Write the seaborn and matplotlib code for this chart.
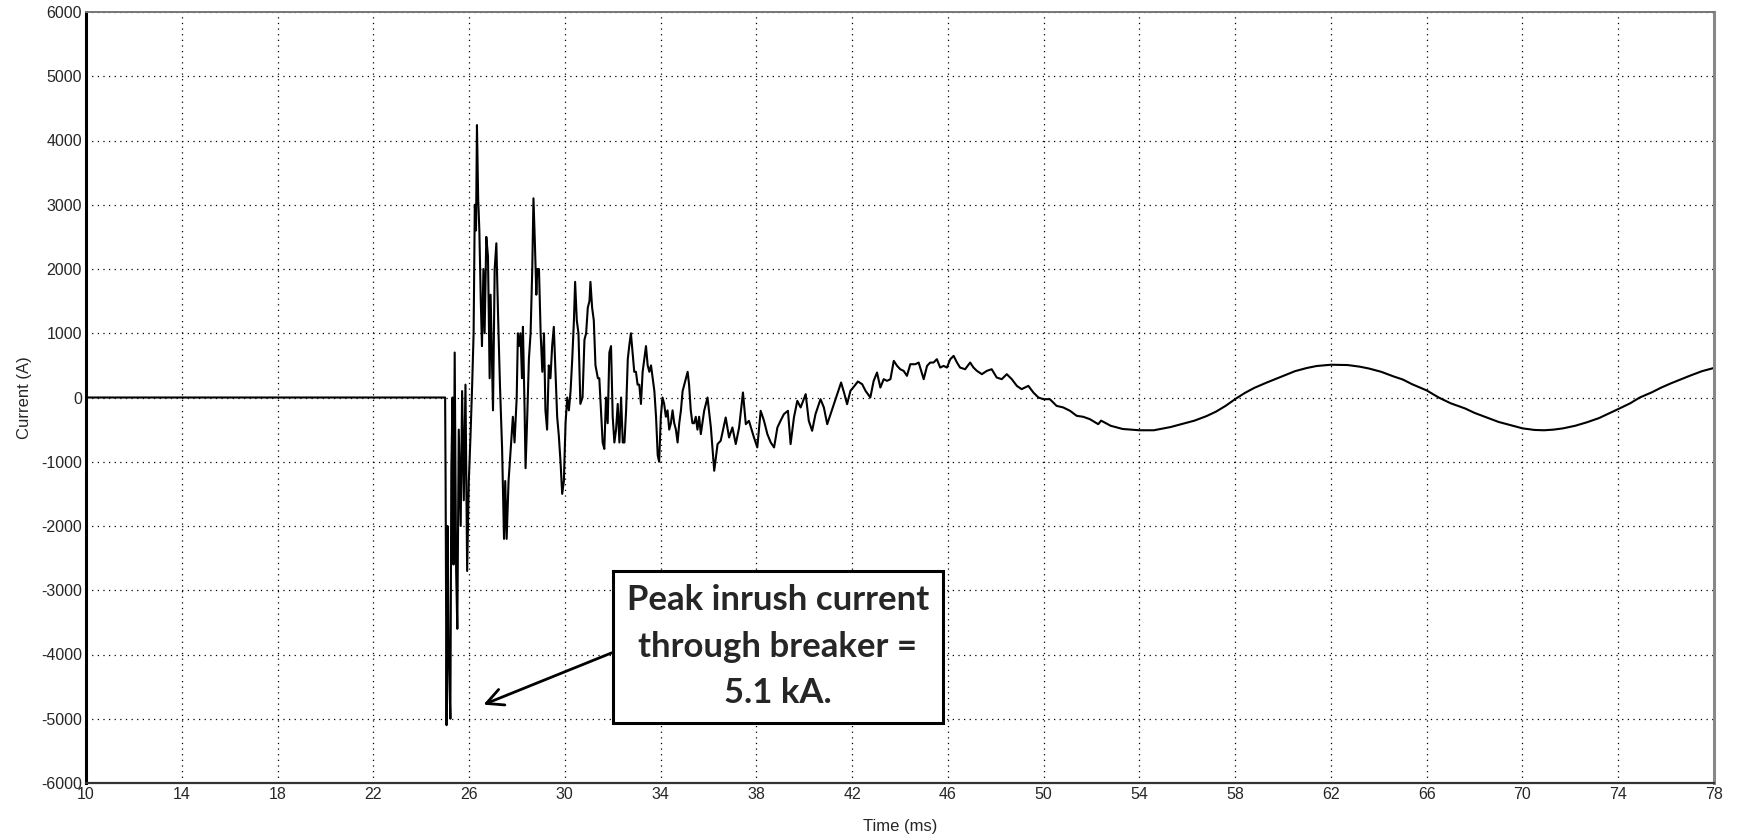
import numpy as np
import pandas as pd
import matplotlib
matplotlib.use("Agg")
import matplotlib.pyplot as plt
import seaborn as sns

# ---- data (time in ms, current in A) ----
time_ms = [
    10.0, 25.0, 25.02, 25.06, 25.10, 25.15, 25.22, 25.26, 25.31, 25.35, 25.40, 25.46, 25.51,
    25.57, 25.65, 25.71, 25.78, 25.85, 25.92, 25.99, 26.06, 26.13, 26.19, 26.24, 26.29,
    26.33, 26.38, 26.43, 26.49, 26.54, 26.60, 26.65, 26.72, 26.79, 26.86, 26.90, 26.96,
    27.00, 27.07, 27.14, 27.21, 27.29, 27.38, 27.46, 27.51, 27.57, 27.65, 27.74, 27.83,
    27.90, 27.99, 28.04, 28.08, 28.15, 28.21, 28.25, 28.32, 28.36, 28.43, 28.50, 28.57,
    28.64, 28.69, 28.75, 28.81, 28.85, 28.92, 28.99, 29.06, 29.13, 29.19, 29.26, 29.33,
    29.40, 29.47, 29.54, 29.61, 29.68, 29.75, 29.82, 29.89, 29.96, 30.03, 30.10, 30.17,
    30.24, 30.31, 30.38, 30.43, 30.50, 30.57, 30.65, 30.74, 30.82, 30.89, 30.96, 31.03,
    31.07, 31.14, 31.21, 31.28, 31.38, 31.44, 31.51, 31.58, 31.65, 31.72, 31.79, 31.86,
    31.93, 32.00, 32.07, 32.14, 32.21, 32.28, 32.35, 32.42, 32.49, 32.56, 32.63, 32.69,
    32.76, 32.83, 32.90, 32.97, 33.04, 33.11, 33.18, 33.25, 33.32, 33.39, 33.46, 33.53,
    33.60, 33.67, 33.74, 33.81, 33.88, 33.94, 34.01, 34.08, 34.15, 34.22, 34.29, 34.36,
    34.43, 34.50, 34.57, 34.64, 34.71, 34.78, 34.85, 34.92, 34.99, 35.06, 35.13, 35.19,
    35.26, 35.33, 35.40, 35.47, 35.54, 35.61,
    35.68, 35.82, 35.96, 36.10, 36.24, 36.38, 36.51, 36.72, 36.86, 37.00, 37.14, 37.28,
    37.44, 37.56, 37.69, 37.90, 38.04, 38.18, 38.32, 38.46, 38.60, 38.74, 38.88, 39.01,
    39.15, 39.32, 39.43, 39.57, 39.71, 39.85, 40.06, 40.19, 40.33, 40.47, 40.68, 40.82,
    40.96, 41.10, 41.24, 41.38, 41.54, 41.68, 41.79, 41.93, 42.10, 42.24, 42.42, 42.56,
    42.76, 42.90, 43.04, 43.18, 43.32, 43.46, 43.60, 43.74, 43.88, 44.01, 44.15, 44.29,
    44.43, 44.64, 44.78, 44.99, 45.13, 45.26, 45.40, 45.54, 45.68, 45.82, 45.96, 46.10,
    46.24, 46.38, 46.51, 46.72, 46.93, 47.07, 47.21, 47.42, 47.63, 47.83, 48.04, 48.25,
    48.46, 48.67, 48.88, 49.08, 49.36, 49.57, 49.78, 49.99, 50.26, 50.54, 50.82, 51.10,
    51.38, 51.65, 51.93, 52.28,
    52.4, 52.8, 53.3, 54.0, 54.6, 55.3, 55.8, 56.3, 56.8, 57.2, 57.6, 58.0, 58.4, 58.8,
    59.3, 59.7, 60.1, 60.5, 61.0, 61.4, 62.0, 62.7, 63.2, 63.6, 64.1, 64.6, 65.0, 65.4,
    66.0, 66.5, 67.0, 67.6, 68.0, 68.5, 69.0, 69.4, 70.0, 70.5, 70.9, 71.3, 71.7, 72.2,
    72.7, 73.2, 73.6, 74.0, 74.5, 74.9, 75.4, 75.8, 76.2, 76.6, 77.0, 77.5, 78.0,
]
current_a = [
    0, 0, -1290, -5100, -2000, -4000, -5000, -1100, 0, -2600, 700, -2700, -3600,
    -500, -2000, 100, -1600, 200, -2700, -1300, -600, 200, 1000, 3000, 2600,
    4240, 3100, 2600, 1500, 800, 2000, 1000, 2500, 2200, 300, 1600, 500,
    -200, 2000, 2400, 1300, 200, -800, -2200, -1300, -2200, -1300, -800, -300,
    -700, 0, 1000, 800, 1000, 300, 1100, -200, -1100, -300, 600, 1000,
    2000, 3100, 2400, 1600, 2000, 2000, 1000, 400, 1000, -200, -500, 500,
    300, 800, 1100, 400, -300, -600, -1000, -1500, -1300, -400, 0, -200,
    100, 600, 1200, 1800, 1200, 1000, -100, 0, 900, 1000, 1400, 1500,
    1800, 1400, 1200, 500, 300, 300, -200, -700, -800, 0, -400, 700,
    800, -300, -700, -500, -100, -700, 0, -700, -700, -200, 600, 800,
    1000, 700, 400, 400, 200, 200, -100, 400, 600, 800, 500, 400,
    500, 300, 100, -300, -900, -1000, -300, 0, -100, -300, -200, -500,
    -400, -200, -400, -500, -700, -400, -200, 100, 200, 300, 400, 200,
    -200, -400, -400, -300, -500, -300,
    -570, -207, 0, -466, -1140, -725, -674, -311, -622, -466, -725, -466,
    78, -415, -363, -622, -777, -207, -363, -570, -699, -777, -466, -363,
    -259, -207, -725, -311, -52, -155, 52, -363, -518, -259, -26, -155,
    -415, -259, -104, 52, 233, 52, -104, 104, 181, 249, 207, 104,
    0, 259, 389, 155, 285, 259, 285, 570, 492, 440, 415, 337,
    518, 518, 544, 285, 492, 544, 544, 596, 466, 492, 466, 596,
    648, 544, 466, 440, 544, 466, 415, 363, 415, 440, 311, 285,
    363, 285, 181, 130, 181, 78, 0, -26, -26, -130, -155, -207,
    -285, -300, -337, -415,
    -360, -440, -490, -510, -510, -460, -410, -360, -290, -220, -130, -25, 70, 150,
    230, 290, 350, 410, 460, 490, 510, 505, 480, 450, 400, 330, 280, 205,
    110, 0, -90, -170, -240, -310, -380, -420, -480, -505, -510, -500, -480, -440,
    -385, -320, -250, -180, -90, 0, 80, 155, 220, 280, 340, 410, 460,
]

x_ticks = [10, 14, 18, 22, 26, 30, 34, 38, 42, 46, 50, 54, 58, 62, 66, 70, 74, 78]
y_ticks = [-6000, -5000, -4000, -3000, -2000, -1000, 0, 1000, 2000, 3000, 4000, 5000, 6000]
annotation_text = "Peak inrush current\nthrough breaker =\n5.1 kA."

df = pd.DataFrame({"Time (ms)": time_ms, "Current (A)": current_a})

sns.set_style("white")
plt.rcParams["font.family"] = ["Liberation Sans", "DejaVu Sans"]
plt.rcParams["axes.unicode_minus"] = False

fig = plt.figure(figsize=(17.37, 8.40), dpi=100)
ax = fig.add_axes([86 / 1737, 1 - 783 / 840, (1714 - 86) / 1737, (783 - 12) / 840])

sns.lineplot(data=df, x="Time (ms)", y="Current (A)", ax=ax, color="black",
             linewidth=1.5, estimator=None, sort=False)

ax.set_xlim(10, 78)
ax.set_ylim(-6000, 6000)
ax.set_xticks(x_ticks)
ax.set_yticks(y_ticks)
ax.tick_params(axis="both", labelsize=11.5, direction="in", length=4, width=1,
               color="black", pad=3)
ax.set_xlabel("Time (ms)", fontsize=12, labelpad=12)
ax.set_ylabel("Current (A)", fontsize=12, labelpad=6)

ax.grid(True, color="black", linestyle=(0, (1, 3.5)), linewidth=0.9)
ax.set_axisbelow(True)

ax.spines["left"].set_color("black")
ax.spines["left"].set_linewidth(2.2)
ax.spines["bottom"].set_color("#333333")
ax.spines["bottom"].set_linewidth(1.6)
ax.spines["top"].set_color("#777777")
ax.spines["top"].set_linewidth(1.4)
ax.spines["right"].set_color("#888888")
ax.spines["right"].set_linewidth(2.2)

ax.annotate(annotation_text, xy=(26.6, -4780), xytext=(38.9, -3880),
            ha="center", va="center", fontsize=25, fontweight="bold",
            family=["Lato", "DejaVu Sans"], linespacing=1.55,
            bbox=dict(boxstyle="square,pad=0.4", fc="white", ec="black", lw=2.2),
            arrowprops=dict(arrowstyle="->", color="black", lw=2, relpos=(0.0, 0.5),
                            mutation_scale=30, shrinkA=0, shrinkB=0))

fig.savefig("out.png", dpi=100, facecolor="white")
